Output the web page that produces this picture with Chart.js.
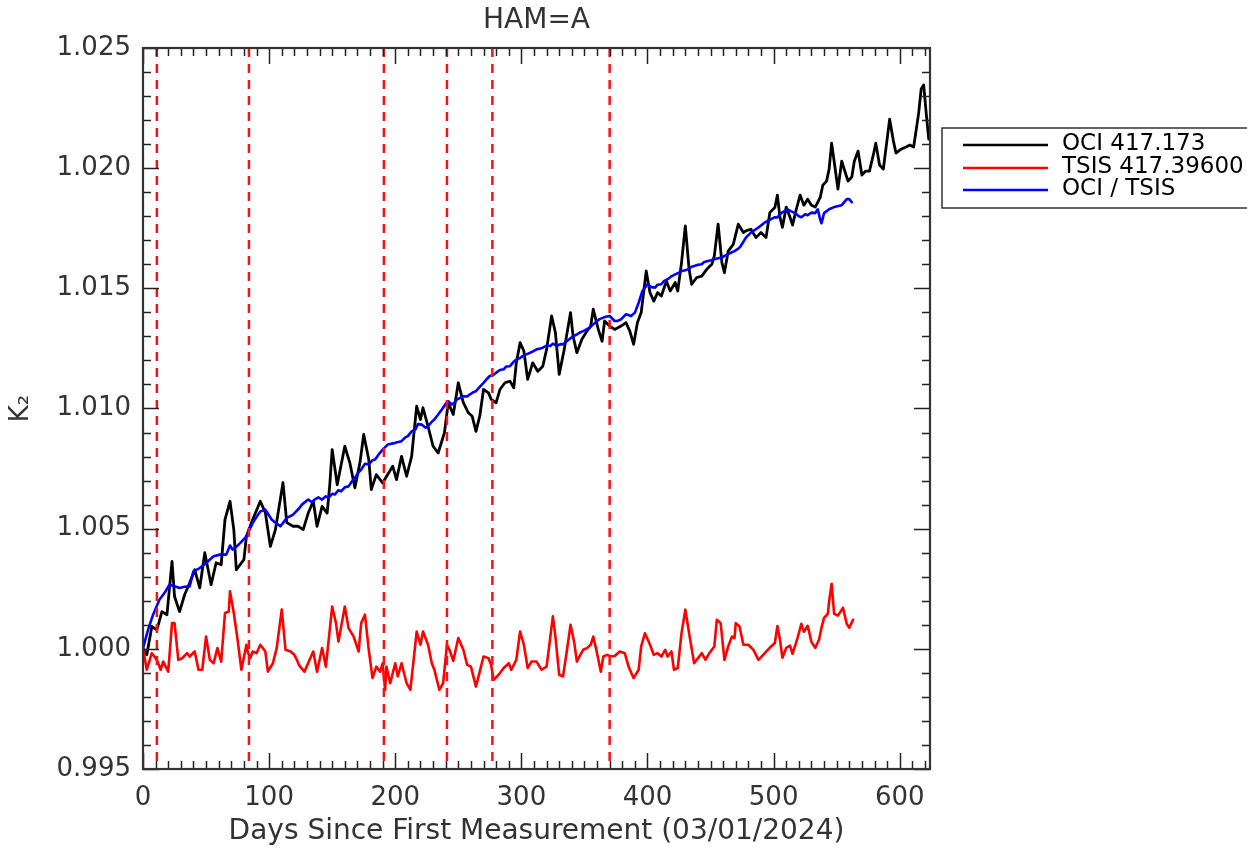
<!DOCTYPE html>
<html>
<head>
<meta charset="utf-8">
<title>HAM=A</title>
<script src="https://cdn.jsdelivr.net/npm/chart.js@4.4.1/dist/chart.umd.min.js"></script>
<style>
  html, body { margin: 0; padding: 0; background: #ffffff; }
  #wrap { width: 1247px; height: 851px; position: relative; background: #ffffff; }
</style>
</head>
<body>
<div id="wrap"><canvas id="c" width="1247" height="851"></canvas></div>
<script>
// ---- data ----
const ociDays = [0,3,7,11,15,19,23,25,29,33,37,41,45,49,54,58,62,65,69,72,74,80,82,86,93,97,101,105,111,114,119,123,127,131,135,138,142,146,148,150,154,160,164,168,172,175,179,181,185,190,194,198,201,205,209,213,217,220,222,226,230,234,239,242,246,250,254,258,261,264,267,270,274,276,280,283,287,291,294,296,299,302,305,309,313,317,320,324,327,330,334,339,341,344,348,352,355,357,361,364,366,370,374,379,383,386,389,392,395,399,402,405,408,411,415,418,422,424,427,430,433,435,439,443,447,451,453,456,459,461,464,468,472,476,478,482,486,490,494,497,501,503,505,507,510,513,515,518,521,524,527,530,533,537,539,542,544,546,548,551,554,557,559,562,564,567,570,573,576,579,581,584,587,592,595,597,601,605,608,611,612,615,617,619,621,623];
const ociVals = [1.00003,0.99975,1.00093,1.00079,1.00155,1.00142,1.00364,1.00218,1.00155,1.00225,1.00275,1.00329,1.00254,1.00400,1.00267,1.00358,1.00350,1.00538,1.00614,1.00496,1.00329,1.00371,1.00468,1.00525,1.00614,1.00567,1.00426,1.00496,1.00692,1.00525,1.00510,1.00510,1.00496,1.00565,1.00614,1.00510,1.00593,1.00565,1.00676,1.00829,1.00683,1.00843,1.00774,1.00670,1.00774,1.00892,1.00788,1.00663,1.00725,1.00690,1.00725,1.00760,1.00704,1.00801,1.00718,1.00801,1.01010,1.00954,1.01003,1.00926,1.00843,1.00815,1.00899,1.01024,1.00975,1.01107,1.01024,1.00982,1.00968,1.00905,1.00968,1.01079,1.01065,1.01038,1.01024,1.01079,1.01107,1.01114,1.01086,1.01190,1.01274,1.01239,1.01121,1.01190,1.01155,1.01176,1.01246,1.01385,1.01315,1.01142,1.01246,1.01399,1.01301,1.01232,1.01288,1.01322,1.01343,1.01413,1.01329,1.01280,1.01364,1.01343,1.01329,1.01343,1.01357,1.01322,1.01267,1.01357,1.01399,1.01572,1.01482,1.01447,1.01482,1.01468,1.01530,1.01489,1.01524,1.01489,1.01607,1.01760,1.01579,1.01517,1.01545,1.01551,1.01579,1.01600,1.01635,1.01767,1.01607,1.01565,1.01655,1.01683,1.01767,1.01732,1.01739,1.01746,1.01711,1.01732,1.01711,1.01815,1.01836,1.01888,1.01796,1.01754,1.01838,1.01796,1.01763,1.01829,1.01888,1.01846,1.01871,1.01846,1.01838,1.01879,1.01929,1.01946,1.01996,1.02104,1.02029,1.01913,1.02029,1.01979,1.01946,1.01963,1.02029,1.02071,1.01971,1.01988,1.01988,1.02054,1.02104,1.02013,1.01996,1.02204,1.02113,1.02063,1.02079,1.02088,1.02096,1.02088,1.02121,1.02229,1.02329,1.02346,1.02229,1.02121];

const tsisDays = [0,3,7,11,14,16,20,23,25,28,31,35,37,41,44,47,50,53,56,59,62,65,68,69,72,75,78,82,83,85,87,90,93,97,99,103,106,110,113,117,120,122,124,128,132,135,138,142,145,150,153,155,160,163,167,171,173,176,179,182,185,188,190,192,193,196,200,202,205,209,212,217,220,222,226,229,231,235,238,241,243,246,250,254,257,260,264,267,270,274,276,278,282,286,290,292,296,299,302,305,308,312,316,320,323,325,327,330,333,336,339,342,344,346,349,352,355,357,360,363,365,368,371,374,378,382,385,389,393,395,398,402,405,408,411,414,416,419,421,424,427,430,433,437,443,446,449,453,455,458,461,464,467,469,470,473,476,480,484,488,493,498,501,503,505,507,510,513,515,519,522,524,527,530,533,536,538,540,543,544,546,548,551,555,558,560,563];
const tsisVals = [1.00003,0.99913,0.99982,0.99954,0.99913,0.99947,0.99905,1.00107,1.00107,0.99954,0.99961,0.99982,0.99968,0.99989,0.99913,0.99913,1.00051,0.99954,0.99940,1.00003,0.99947,1.00149,1.00155,1.00239,1.00149,1.00038,0.99913,1.00017,0.99989,0.99961,0.99989,0.99982,1.00017,0.99989,0.99905,0.99940,1.00003,1.00163,0.99996,0.99989,0.99975,0.99954,0.99930,0.99905,0.99954,0.99989,0.99905,1.00003,0.99926,1.00176,1.00107,1.00030,1.00176,1.00086,1.00051,0.99989,1.00107,1.00142,0.99996,0.99878,0.99926,0.99905,0.99940,0.99829,0.99926,0.99857,0.99940,0.99885,0.99940,0.99857,0.99829,1.00072,1.00017,1.00072,1.00017,0.99940,0.99913,0.99829,0.99857,1.00017,0.99996,0.99950,1.00045,0.99996,0.99933,0.99926,0.99843,0.99905,0.99968,0.99961,0.99933,0.99871,0.99892,0.99920,0.99940,0.99913,0.99954,1.00072,1.00017,0.99920,0.99947,0.99947,0.99913,0.99926,1.00051,1.00135,1.00051,0.99892,0.99885,0.99989,1.00100,1.00024,0.99947,0.99968,0.99996,1.00003,1.00017,1.00051,0.99982,0.99905,0.99968,0.99975,0.99968,0.99970,0.99989,0.99982,0.99926,0.99878,0.99913,1.00010,1.00065,1.00017,0.99975,0.99982,0.99968,0.99996,0.99968,0.99989,0.99913,0.99920,1.00065,1.00163,1.00065,0.99940,0.99982,0.99954,0.99982,1.00010,1.00121,1.00107,0.99954,1.00010,1.00051,1.00045,1.00107,1.00093,1.00017,1.00017,0.99996,0.99954,0.99982,1.00010,1.00024,1.00095,1.00040,0.99963,1.00004,1.00013,0.99979,1.00046,1.00104,1.00071,1.00096,1.00029,1.00004,1.00038,1.00088,1.00129,1.00146,1.00196,1.00271,1.00146,1.00138,1.00171,1.00104,1.00088,1.00121];

const ratioDays = [0,4,8,13,17,21,25,29,33,37,40,45,50,56,61,66,69,71,74,77,82,87,93,97,102,105,109,114,119,124,126,131,134,136,139,142,145,147,150,152,155,157,160,163,166,168,171,173,176,179,182,184,187,190,194,200,205,208,210,213,216,218,221,224,226,229,231,234,237,240,242,245,247,249,252,254,257,259,262,264,267,270,273,275,278,280,283,286,288,291,294,296,299,301,304,307,310,312,315,317,320,323,325,328,331,333,336,338,341,344,346,349,352,354,357,360,362,365,367,370,374,376,379,383,387,390,393,396,400,403,406,408,411,413,416,419,422,425,427,430,432,435,437,440,443,445,448,451,453,456,459,461,464,467,469,472,474,478,482,488,493,498,501,503,506,511,514,517,520,522,525,527,530,533,535,537,538,540,544,548,554,558,560,562];
const ratioVals = [1.00003,1.00079,1.00142,1.00204,1.00232,1.00267,1.00260,1.00253,1.00258,1.00260,1.00322,1.00336,1.00357,1.00385,1.00392,1.00392,1.00430,1.00413,1.00425,1.00440,1.00468,1.00524,1.00572,1.00579,1.00538,1.00525,1.00510,1.00545,1.00558,1.00586,1.00600,1.00621,1.00610,1.00621,1.00630,1.00621,1.00635,1.00628,1.00645,1.00642,1.00660,1.00655,1.00672,1.00676,1.00700,1.00711,1.00735,1.00746,1.00770,1.00767,1.00785,1.00788,1.00810,1.00829,1.00850,1.00857,1.00864,1.00880,1.00885,1.00905,1.00913,1.00935,1.00933,1.00920,1.00926,1.00945,1.00954,1.00975,1.00996,1.01020,1.01030,1.01017,1.01025,1.01038,1.01045,1.01051,1.01050,1.01058,1.01068,1.01072,1.01090,1.01107,1.01125,1.01135,1.01140,1.01149,1.01160,1.01163,1.01175,1.01176,1.01195,1.01204,1.01210,1.01218,1.01225,1.01232,1.01240,1.01246,1.01250,1.01253,1.01262,1.01260,1.01270,1.01260,1.01268,1.01267,1.01280,1.01288,1.01300,1.01308,1.01315,1.01322,1.01330,1.01336,1.01350,1.01364,1.01372,1.01378,1.01382,1.01385,1.01364,1.01364,1.01371,1.01392,1.01385,1.01399,1.01440,1.01489,1.01517,1.01505,1.01503,1.01515,1.01517,1.01530,1.01538,1.01550,1.01558,1.01565,1.01572,1.01575,1.01579,1.01590,1.01593,1.01598,1.01600,1.01610,1.01614,1.01618,1.01621,1.01625,1.01628,1.01635,1.01642,1.01650,1.01655,1.01665,1.01676,1.01711,1.01732,1.01753,1.01774,1.01788,1.01796,1.01795,1.01813,1.01829,1.01820,1.01813,1.01800,1.01796,1.01808,1.01804,1.01815,1.01813,1.01829,1.01785,1.01771,1.01813,1.01829,1.01838,1.01846,1.01871,1.01871,1.01858];

// days marked with dashed vertical lines
const eventDays = [11, 84, 191, 241, 277, 370];

const xTickValues = [0, 100, 200, 300, 400, 500, 600];
const yTickValues = [0.995, 1.000, 1.005, 1.010, 1.015, 1.020, 1.025];
const seriesNames = ['OCI 417.173', 'TSIS 417.39600', 'OCI / TSIS'];
const seriesColors = ['#000000', '#ff0000', '#0000ff'];

const X_MIN = 0, X_MAX = 624, Y_MIN = 0.995, Y_MAX = 1.025;
const X_MINOR = 10, Y_MINOR = 0.001;

const FONT = '"DejaVu Sans", "Liberation Sans", sans-serif';

function pairs(xs, ys) { return xs.map((x, i) => ({ x: x, y: ys[i] })); }

const lineStyle = { pointRadius: 0, tension: 0, borderJoinStyle: 'round', borderCapStyle: 'round' };

const datasets = [];
eventDays.forEach(d => {
  datasets.push({
    data: [{ x: d, y: Y_MAX }, { x: d, y: Y_MIN }],
    borderColor: '#ff1010', borderWidth: 2.5, borderDash: [9, 7],
    pointRadius: 0, tension: 0, order: 0
  });
});
datasets.push(Object.assign({ label: seriesNames[2], data: pairs(ratioDays, ratioVals), borderColor: seriesColors[2], borderWidth: 2.6, order: 1 }, lineStyle));
datasets.push(Object.assign({ label: seriesNames[1], data: pairs(tsisDays, tsisVals), borderColor: seriesColors[1], borderWidth: 2.6, order: 2 }, lineStyle));
datasets.push(Object.assign({ label: seriesNames[0], data: pairs(ociDays, ociVals), borderColor: seriesColors[0], borderWidth: 2.8, order: 3 }, lineStyle));

// inward ticks on all four sides plus the plot frame
const framePlugin = {
  id: 'frame',
  afterDatasetsDraw(chart) {
    const { ctx, chartArea: a, scales: { x, y } } = chart;
    ctx.save();
    ctx.strokeStyle = '#222';
    ctx.lineWidth = 1.5;
    const MAJ = 16, MIN = 8;
    const eps = 1e-9;
    ctx.beginPath();
    for (let v = X_MIN; v <= X_MAX + eps; v += X_MINOR) {
      const isMaj = xTickValues.some(t => Math.abs(t - v) < eps);
      const len = isMaj ? MAJ : MIN;
      const px = Math.round(x.getPixelForValue(v)) + 0.5;
      ctx.moveTo(px, a.bottom); ctx.lineTo(px, a.bottom - len);
      ctx.moveTo(px, a.top); ctx.lineTo(px, a.top + len);
    }
    const nY = Math.round((Y_MAX - Y_MIN) / Y_MINOR);
    for (let i = 0; i <= nY; i++) {
      const v = Y_MIN + i * Y_MINOR;
      const isMaj = yTickValues.some(t => Math.abs(t - v) < 1e-7);
      const len = isMaj ? MAJ : MIN;
      const py = Math.round(y.getPixelForValue(v)) + 0.5;
      ctx.moveTo(a.left, py); ctx.lineTo(a.left + len, py);
      ctx.moveTo(a.right, py); ctx.lineTo(a.right - len, py);
    }
    ctx.stroke();
    ctx.lineWidth = 2.2;
    ctx.strokeStyle = '#333';
    ctx.strokeRect(a.left, a.top, a.right - a.left, a.bottom - a.top);
    ctx.restore();
  }
};

// boxed key to the right of the plot
const keyPlugin = {
  id: 'keyBox',
  afterDraw(chart) {
    const ctx = chart.ctx;
    ctx.save();
    ctx.strokeStyle = '#333';
    ctx.lineWidth = 1.5;
    ctx.strokeRect(942, 128, 330, 80);
    const rows = [145, 168, 190];
    ctx.font = '23px ' + FONT;
    ctx.textBaseline = 'middle';
    ctx.textAlign = 'left';
    seriesNames.forEach((name, i) => {
      ctx.strokeStyle = seriesColors[i];
      ctx.lineWidth = 2.5;
      ctx.beginPath();
      ctx.moveTo(963, rows[i]);
      ctx.lineTo(1048, rows[i]);
      ctx.stroke();
      ctx.fillStyle = '#000';
      ctx.fillText(name, 1062, rows[i] - 1);
    });
    ctx.restore();
  }
};

new Chart(document.getElementById('c'), {
  type: 'line',
  data: { datasets: datasets },
  options: {
    responsive: false,
    animation: false,
    devicePixelRatio: 1,
    events: [],
    layout: { padding: { left: 0, right: 317, top: 0, bottom: 0 } },
    plugins: {
      legend: { display: false },
      tooltip: { enabled: false },
      title: {
        display: true,
        text: 'HAM=A',
        fullSize: false,
        color: '#333',
        font: { family: FONT, size: 28, weight: 'normal', lineHeight: 1.2 },
        padding: { top: 4, bottom: 10.4 }
      }
    },
    scales: {
      x: {
        type: 'linear',
        min: X_MIN, max: X_MAX,
        afterBuildTicks: s => { s.ticks = xTickValues.map(v => ({ value: v })); },
        afterFit: s => { s.height = 82; },
        grid: { display: false, drawTicks: false, tickLength: 0 },
        border: { display: false },
        ticks: {
          autoSkip: false, maxRotation: 0, padding: 14, color: '#333',
          font: { family: FONT, size: 26, lineHeight: 1.2 },
          callback: v => String(v)
        },
        title: {
          display: true,
          text: 'Days Since First Measurement (03/01/2024)',
          color: '#333',
          font: { family: FONT, size: 28, lineHeight: 1.2 },
          padding: { top: 0, bottom: 2 }
        }
      },
      y: {
        type: 'linear',
        min: Y_MIN, max: Y_MAX,
        afterBuildTicks: s => { s.ticks = yTickValues.map(v => ({ value: v })); },
        afterFit: s => { s.width = 143; },
        grid: { display: false, drawTicks: false, tickLength: 0 },
        border: { display: false },
        ticks: {
          autoSkip: false, padding: 12, color: '#333',
          font: { family: FONT, size: 26, lineHeight: 1.2 },
          callback: v => Number(v).toFixed(3)
        },
        title: {
          display: true,
          text: 'K\u2082',
          color: '#333',
          font: { family: FONT, size: 26, lineHeight: 1.2 },
          padding: { top: 6, bottom: 0 }
        }
      }
    }
  },
  plugins: [framePlugin, keyPlugin]
});
</script>
</body>
</html>
